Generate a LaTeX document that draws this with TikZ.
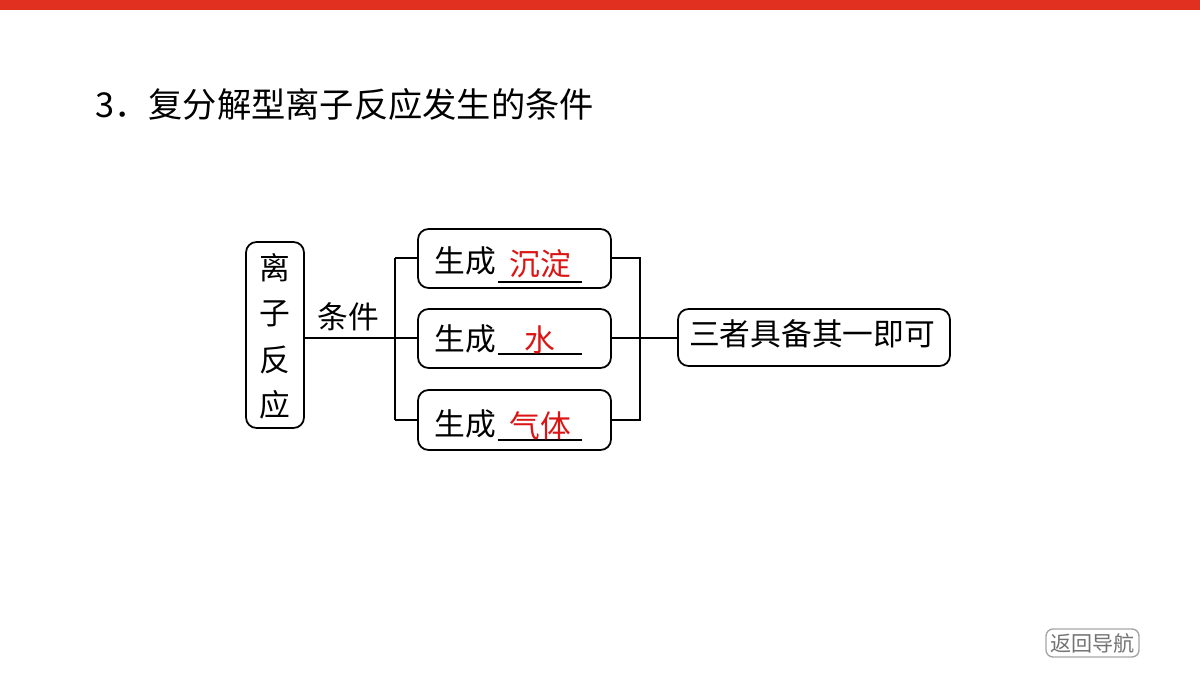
\documentclass[tikz,border=0pt]{standalone}
\usepackage{fontspec}
\newfontfamily\cjk{Noto Sans CJK SC}
\definecolor{barred}{RGB}{225,48,32}
\definecolor{ansred}{RGB}{220,20,20}
\begin{document}
\begin{tikzpicture}[x=0.02cm,y=-0.02cm,
  box/.style={draw,rounded corners=6pt,line width=1pt},
  txt/.style={font=\cjk\fontsize{17.5}{19}\selectfont,inner sep=0pt},
  ln/.style={line width=1pt}]
\useasboundingbox (0,0) rectangle (1200,675);
\fill[barred] (0,0) rectangle (1200,10);
\node[font=\cjk\fontsize{19.5}{22}\selectfont,inner sep=0pt,anchor=west] (title) at (95,104) {3．复分解型离子反应发生的条件};
% left box
\draw[box] (246,242) rectangle (304,428);
\node[txt] (l1) at (275,268) {离};
\node[txt] (l2) at (275,314) {子};
\node[txt] (l3) at (275,360) {反};
\node[txt] (l4) at (275,405) {应};
\coordinate (lb) at (304,338);
\coordinate (bt) at (395,258);
\coordinate (bm) at (395,338);
\coordinate (bb) at (395,420);
\draw[ln] (lb) -- (bm);
\node[txt] (cond) at (348,317) {条件};
\draw[ln] (bt) -- (bb);
% boxes
\draw[box] (418,229) rectangle (611,288);
\draw[box] (418,309) rectangle (611,368);
\draw[box] (418,390) rectangle (611,450);
\draw[ln] (bt) -- (418,258);
\draw[ln] (bm) -- (418,338);
\draw[ln] (bb) -- (418,420);
\node[txt,anchor=west] (g1) at (434,261) {生成};
\node[txt,anchor=west] (g2) at (434,339) {生成};
\node[txt,anchor=west] (g3) at (434,424) {生成};
\draw[ln] (498,282) -- (582,282);
\draw[ln] (498,354) -- (582,354);
\draw[ln] (498,440) -- (582,440);
\node[txt,text=ansred] (a1) at (540,264) {沉淀};
\node[txt,text=ansred] (a2) at (540,340) {水};
\node[txt,text=ansred] (a3) at (540,426) {气体};
% right bracket
\draw[ln] (611,258) -- (640,258) -- (640,420) -- (611,420);
\draw[ln] (611,338) -- (678,338);
\draw[box] (678,309) rectangle (950,366);
\node[txt] (res) at (812,334) {三者具备其一即可};
% nav
\draw[draw=gray!70,rounded corners=4pt,line width=0.8pt] (1046,629) rectangle (1139,657);
\node[font=\cjk\fontsize{12}{14}\selectfont,text=gray!90!black,inner sep=0pt] (nav) at (1092.5,643) {返回导航};
\end{tikzpicture}
\end{document}
